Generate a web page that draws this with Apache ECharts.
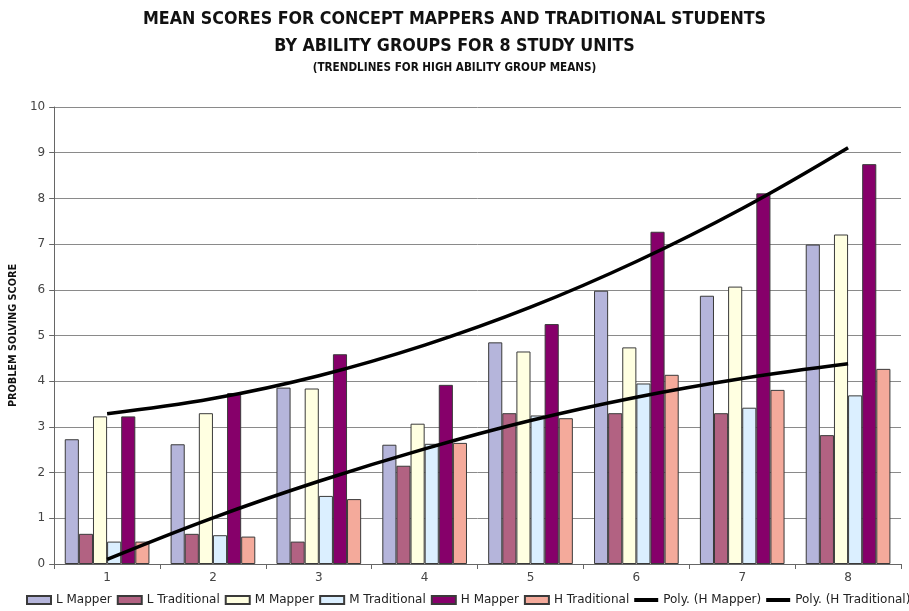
<!DOCTYPE html>
<html>
<head>
<meta charset="utf-8">
<script src="https://cdn.jsdelivr.net/npm/echarts@6/dist/echarts.min.js"></script>
<style>html,body{margin:0;padding:0;background:#fff}#c{width:909px;height:611px}</style>
</head>
<body>
<div id="c"></div>
<script>
const categories = ['1', '2', '3', '4', '5', '6', '7', '8'];
const lMapper = [2.73, 2.62, 3.86, 2.61, 4.85, 5.98, 5.87, 6.99];
const lTrad   = [0.66, 0.66, 0.49, 2.15, 3.30, 3.30, 3.30, 2.82];
const mMapper = [3.23, 3.30, 3.84, 3.07, 4.65, 4.74, 6.07, 7.21];
const mTrad   = [0.49, 0.63, 1.49, 2.63, 3.25, 3.95, 3.42, 3.69];
const hMapper = [3.23, 3.74, 4.59, 3.92, 5.25, 7.27, 8.11, 8.75];
const hTrad   = [0.49, 0.60, 1.42, 2.65, 3.19, 4.14, 3.81, 4.27];
const polyHMapper = [3.29, 3.62, 4.12, 4.79, 5.62, 6.62, 7.78, 9.11];
const polyHTrad   = [0.10, 1.01, 1.81, 2.52, 3.14, 3.65, 4.06, 4.38];
const yTicks = { min: 0, max: 10, interval: 1 };

const narrow = "'Liberation Sans Narrow', 'DejaVu Sans Condensed', 'Arial Narrow', sans-serif";
const body = "'DejaVu Sans', sans-serif";
const chart = echarts.init(document.getElementById('c'), null, { renderer: 'canvas' });

function bar(name, data, color) {
  return {
    name, type: 'bar', data,
    barGap: '0%', barCategoryGap: '20%',
    itemStyle: { color, borderColor: '#3a3a3a', borderWidth: 1 },
    emphasis: { disabled: true }
  };
}
function trend(name, data) {
  return {
    name, type: 'line', data, smooth: 0.4, symbol: 'none', z: 5,
    lineStyle: { color: '#000', width: 3.5 },
    itemStyle: { color: '#000' },
    emphasis: { disabled: true }
  };
}
const lineIcon = 'path://M0,0 L24,0 L24,4 L0,4 Z';

chart.setOption({
  animation: false,
  backgroundColor: '#fff',
  title: [
    {
      text: 'MEAN SCORES FOR CONCEPT MAPPERS AND TRADITIONAL STUDENTS\nBY ABILITY GROUPS FOR 8 STUDY UNITS',
      left: 'center', top: 1, padding: [5, 0, 5, 10],
      textStyle: { fontFamily: narrow, fontWeight: 'bold', fontSize: 17.7, lineHeight: 27, color: '#111' }
    },
    {
      text: '(TRENDLINES FOR HIGH ABILITY GROUP MEANS)',
      left: 'center', top: 57, padding: [5, 0, 5, 10],
      textStyle: { fontFamily: narrow, fontWeight: 'bold', fontSize: 11.6, color: '#111' }
    }
  ],
  legend: {
    left: 21, bottom: 0, width: 1200,
    itemWidth: 24, itemHeight: 8, itemGap: 5, symbolKeepAspect: true,
    textStyle: { fontFamily: body, fontSize: 12, color: '#222' },
    data: [
      { name: 'L Mapper', icon: 'rect' },
      { name: 'L Traditional', icon: 'rect' },
      { name: 'M Mapper', icon: 'rect' },
      { name: 'M Traditional', icon: 'rect' },
      { name: 'H Mapper', icon: 'rect' },
      { name: 'H Traditional', icon: 'rect' },
      { name: 'Poly. (H Mapper)', icon: lineIcon, itemStyle: { color: '#000', borderWidth: 0 } },
      { name: 'Poly. (H Traditional)', icon: lineIcon, itemStyle: { color: '#000', borderWidth: 0 } }
    ]
  },
  grid: { left: 53, right: 8, top: 107, bottom: 47 },
  xAxis: {
    type: 'category', data: categories, boundaryGap: true,
    axisLine: { lineStyle: { color: '#666', width: 1 } },
    axisTick: { show: true, length: 5, lineStyle: { color: '#666' } },
    axisLabel: { fontFamily: body, fontSize: 12, color: '#444', margin: 8 }
  },
  yAxis: {
    type: 'value', min: yTicks.min, max: yTicks.max, interval: yTicks.interval,
    name: 'PROBLEM SOLVING SCORE', nameLocation: 'middle', nameRotate: 90, nameGap: 35,
    nameTextStyle: { fontFamily: narrow, fontWeight: 'bold', fontSize: 10.8, color: '#111' },
    axisLine: { show: true, lineStyle: { color: '#666', width: 1 } },
    axisTick: { show: true, length: 5, lineStyle: { color: '#666' } },
    axisLabel: { fontFamily: body, fontSize: 12, color: '#444', margin: 9 },
    splitLine: { show: true, lineStyle: { color: '#8a8a8a', width: 1 } }
  },
  series: [
    bar('L Mapper', lMapper, '#b5b5db'),
    bar('L Traditional', lTrad, '#b26282'),
    bar('M Mapper', mMapper, '#ffffe1'),
    bar('M Traditional', mTrad, '#dbefff'),
    bar('H Mapper', hMapper, '#86006a'),
    bar('H Traditional', hTrad, '#f4aa9b'),
    trend('Poly. (H Mapper)', polyHMapper),
    trend('Poly. (H Traditional)', polyHTrad)
  ]
});
</script>
</body>
</html>
